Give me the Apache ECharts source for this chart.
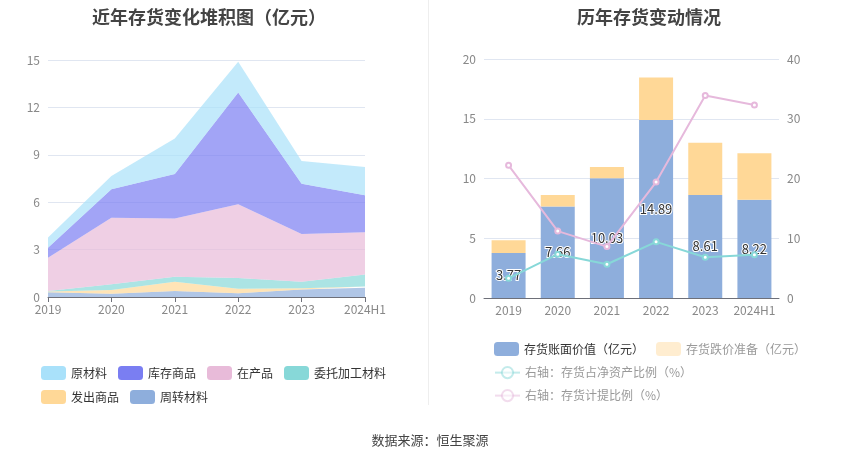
<!DOCTYPE html>
<html><head><meta charset="utf-8">
<script src="https://cdn.jsdelivr.net/npm/echarts@6/dist/echarts.min.js"></script>
<style>html,body{margin:0;padding:0;background:#fff}#c{width:850px;height:459px}</style>
</head><body><div id="c"></div>
<script>
const years = ['2019','2020','2021','2022','2023','2024H1'];
// Left chart: inventory components (亿元)
const rawMaterial   = [0.65, 0.84, 2.24, 1.94, 1.45, 1.78]; // 原材料
const finishedGoods = [0.64, 1.81, 2.82, 7.08, 3.18, 2.34]; // 库存商品
const wip           = [2.10, 4.21, 3.69, 4.67, 3.01, 2.67]; // 在产品
const consigned     = [0.03, 0.36, 0.31, 0.67, 0.42, 0.76]; // 委托加工材料
const shipped       = [0.05, 0.23, 0.59, 0.30, 0.07, 0.08]; // 发出商品
const turnover      = [0.30, 0.21, 0.38, 0.23, 0.48, 0.59]; // 周转材料
// Right chart
const bookValue     = [3.77, 7.66, 10.03, 14.89, 8.61, 8.22]; // 存货账面价值
const reserve       = [1.07, 0.96, 0.94, 3.57, 4.39, 3.89];   // 存货跌价准备
const netAssetRatio = [3.3, 7.33, 5.65, 9.4, 6.83, 7.22];     // 存货占净资产比例
const provisionRatio= [22.2, 11.2, 8.6, 19.4, 33.9, 32.3];    // 存货计提比例

const C = {raw:'#a9e1fa', fin:'#7a7ef2', wip:'#e8bbd9', con:'#87d8d8', shp:'#ffd897', tur:'#8eaedc'};
const chart = echarts.init(document.getElementById('c'));
const font = '"Noto Sans CJK SC", sans-serif';
function area(name, data, color){
  return {name, type:'line', stack:'a', data, symbol:'none', xAxisIndex:0, yAxisIndex:0,
    lineStyle:{width:0}, itemStyle:{color}, areaStyle:{color, opacity:0.7}};
}
chart.setOption({
  textStyle:{fontFamily:font},
  animation:false,
  title:[
    {text:'近年存货变化堆积图（亿元）', left:204, textAlign:'center', top:3, textStyle:{fontSize:18, fontWeight:'bold', color:'#444', fontFamily:font}},
    {text:'历年存货变动情况', left:644, textAlign:'center', top:3, textStyle:{fontSize:18, fontWeight:'bold', color:'#444', fontFamily:font}},
    {text:'数据来源：恒生聚源', left:425, textAlign:'center', top:429, textStyle:{fontSize:13, fontWeight:'normal', color:'#444', fontFamily:font}}
  ],
  graphic:[{type:'line', shape:{x1:428.5, y1:0, x2:428.5, y2:405}, style:{stroke:'#eeeeee', lineWidth:1}}],
  legend:[
    {left:36, top:361, itemGap:11, icon:'roundRect', textStyle:{color:'#333', fontSize:12}, data:['原材料','库存商品','在产品','委托加工材料']},
    {left:36, top:385, itemGap:11, icon:'roundRect', textStyle:{color:'#333', fontSize:12}, data:['发出商品','周转材料']},
    {left:489, top:337, itemGap:12, icon:'roundRect', textStyle:{fontSize:12},
      data:[{name:'存货账面价值（亿元）', textStyle:{color:'#333'}},
            {name:'存货跌价准备（亿元）', textStyle:{color:'#999'}, itemStyle:{opacity:0.45}}]},
    {left:489, top:361, textStyle:{fontSize:12, color:'#999'},
      data:[{name:'右轴：存货占净资产比例（%）', itemStyle:{opacity:0.5}, lineStyle:{opacity:0.5}}]},
    {left:489, top:384, textStyle:{fontSize:12, color:'#999'},
      data:[{name:'右轴：存货计提比例（%）', itemStyle:{opacity:0.5}, lineStyle:{opacity:0.5}}]}
  ],
  grid:[
    {left:48, top:60, width:317, bottom:162},
    {left:484, top:59, right:71, bottom:161}
  ],
  xAxis:[
    {type:'category', gridIndex:0, data:years, boundaryGap:false,
      axisLine:{lineStyle:{color:'#6E7079'}}, axisTick:{show:true},
      axisLabel:{color:'#888', fontSize:12, margin:6, interval:0}},
    {type:'category', gridIndex:1, data:years,
      axisLine:{lineStyle:{color:'#6E7079'}}, axisTick:{alignWithLabel:true},
      axisLabel:{color:'#888', fontSize:12, margin:6, interval:0}}
  ],
  yAxis:[
    {type:'value', gridIndex:0, min:0, max:15, interval:3,
      axisLabel:{color:'#888', fontSize:12}, splitLine:{lineStyle:{color:'#e0e6f1'}}},
    {type:'value', gridIndex:1, min:0, max:20, interval:5,
      axisLabel:{color:'#888', fontSize:12}, splitLine:{lineStyle:{color:'#e0e6f1'}}},
    {type:'value', gridIndex:1, min:0, max:40, interval:10, position:'right',
      axisLabel:{color:'#888', fontSize:12}, splitLine:{show:false}}
  ],
  series:[
    area('周转材料', turnover, C.tur),
    area('发出商品', shipped, C.shp),
    area('委托加工材料', consigned, C.con),
    area('在产品', wip, C.wip),
    area('库存商品', finishedGoods, C.fin),
    area('原材料', rawMaterial, C.raw),
    {name:'存货账面价值（亿元）', type:'bar', stack:'b', xAxisIndex:1, yAxisIndex:1, data:bookValue,
      barWidth:34, itemStyle:{color:'#8eaedc'},
      label:{show:true, position:'inside', color:'#333', fontSize:13, textBorderColor:'#fff', textBorderWidth:2, formatter:p=>p.value.toFixed(2)},
      z:2},
    {name:'存货跌价准备（亿元）', type:'bar', stack:'b', xAxisIndex:1, yAxisIndex:1, data:reserve,
      barWidth:34, itemStyle:{color:'#ffd897'}, z:2},
    {name:'右轴：存货占净资产比例（%）', type:'line', xAxisIndex:1, yAxisIndex:2, data:netAssetRatio,
      symbol:'emptyCircle', symbolSize:5, lineStyle:{width:2, color:'#87d8d8'}, itemStyle:{color:'#87d8d8'}, z:4},
    {name:'右轴：存货计提比例（%）', type:'line', xAxisIndex:1, yAxisIndex:2, data:provisionRatio,
      symbol:'emptyCircle', symbolSize:5, lineStyle:{width:2, color:'#e6b9dc'}, itemStyle:{color:'#e6b9dc'}, z:4}
  ]
});
</script></body></html>
